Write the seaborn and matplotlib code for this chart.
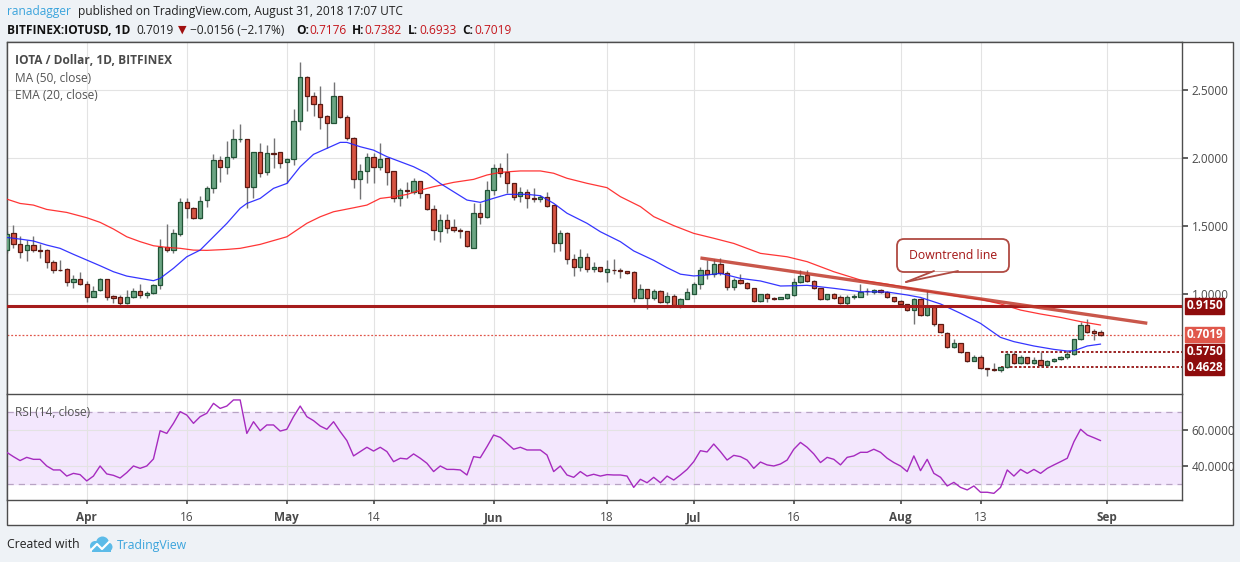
import numpy as np
import pandas as pd
import seaborn as sns
import matplotlib.pyplot as plt
import matplotlib.dates as mdates
from matplotlib.patches import Rectangle, FancyBboxPatch, Polygon, Circle
from matplotlib.lines import Line2D
from matplotlib.transforms import IdentityTransform

# IOT/USD daily candles on Bitfinex, 20 Mar - 31 Aug 2018
dates = pd.date_range("2018-03-20", "2018-08-31", freq="D")

open_ = [
    1.323, 1.446, 1.365, 1.321, 1.358, 1.322, 1.321, 1.233, 1.176, 1.181,
    1.086, 1.108, 1.071, 0.980, 1.027, 1.108, 0.985, 0.976, 0.931, 0.976,
    1.024, 0.990, 1.005, 1.064, 1.348, 1.323, 1.441, 1.674, 1.630, 1.556,
    1.693, 1.777, 1.985, 1.931, 2.005, 2.137, 2.137, 1.789, 2.041, 1.899,
    2.034, 2.041, 1.968, 1.990, 2.272, 2.593, 2.458, 2.394, 2.308, 2.260,
    2.453, 2.299, 2.144, 1.843, 1.902, 2.005, 1.931, 1.997, 1.902, 1.703,
    1.762, 1.752, 1.828, 1.733, 1.622, 1.461, 1.541, 1.490, 1.471, 1.460,
    1.341, 1.594, 1.569, 1.763, 1.924, 1.895, 1.814, 1.723, 1.753, 1.709,
    1.697, 1.711, 1.652, 1.373, 1.451, 1.255, 1.201, 1.270, 1.182, 1.196,
    1.165, 1.180, 1.174, 1.167, 1.160, 0.973, 1.035, 0.973, 1.022, 0.939,
    0.986, 0.920, 0.961, 1.003, 1.071, 1.174, 1.144, 1.220, 1.152, 1.054,
    1.103, 1.078, 1.041, 0.948, 0.997, 0.973, 0.965, 0.968, 0.990, 1.085,
    1.140, 1.095, 1.041, 0.960, 0.997, 0.980, 0.931, 0.980, 0.980, 1.025,
    1.012, 1.029, 1.012, 0.975, 0.948, 0.924, 0.882, 0.963, 0.845, 0.907,
    0.777, 0.716, 0.608, 0.637, 0.571, 0.510, 0.534, 0.453, 0.446, 0.439,
    0.461, 0.559, 0.490, 0.534, 0.490, 0.515, 0.476, 0.507, 0.522, 0.539,
    0.559, 0.667, 0.772, 0.728, 0.7176,
]
high = [
    1.460, 1.507, 1.426, 1.397, 1.426, 1.365, 1.330, 1.247, 1.247, 1.189,
    1.140, 1.159, 1.095, 1.059, 1.115, 1.110, 0.992, 0.992, 1.030, 1.046,
    1.071, 1.024, 1.071, 1.402, 1.515, 1.478, 1.703, 1.703, 1.640, 1.720,
    1.794, 2.027, 2.012, 2.125, 2.210, 2.250, 2.140, 2.045, 2.107, 2.095,
    2.144, 2.045, 1.997, 2.360, 2.708, 2.603, 2.483, 2.529, 2.316, 2.561,
    2.455, 2.316, 2.156, 1.956, 2.034, 2.039, 2.107, 1.997, 1.902, 1.782,
    1.826, 1.850, 1.830, 1.735, 1.654, 1.585, 1.585, 1.551, 1.482, 1.460,
    1.666, 1.667, 1.831, 1.956, 1.961, 2.040, 1.818, 1.790, 1.772, 1.777,
    1.728, 1.753, 1.655, 1.469, 1.455, 1.292, 1.329, 1.299, 1.233, 1.201,
    1.250, 1.255, 1.190, 1.172, 1.170, 1.071, 1.035, 1.037, 1.030, 1.017,
    0.998, 0.973, 1.042, 1.091, 1.199, 1.248, 1.255, 1.265, 1.169, 1.120,
    1.144, 1.088, 1.041, 1.000, 1.005, 0.980, 0.980, 1.000, 1.120, 1.176,
    1.176, 1.100, 1.046, 1.000, 1.005, 0.990, 0.990, 1.000, 1.071, 1.041,
    1.040, 1.035, 1.020, 0.980, 0.955, 0.930, 0.970, 0.970, 1.029, 0.910,
    0.780, 0.720, 0.667, 0.640, 0.575, 0.550, 0.552, 0.455, 0.490, 0.465,
    0.576, 0.575, 0.552, 0.540, 0.539, 0.576, 0.515, 0.530, 0.545, 0.581,
    0.670, 0.797, 0.814, 0.740, 0.7382,
]
low = [
    1.300, 1.341, 1.267, 1.245, 1.310, 1.267, 1.189, 1.152, 1.170, 1.061,
    1.046, 1.070, 0.944, 0.975, 1.024, 0.956, 0.931, 0.919, 0.928, 0.970,
    0.968, 0.968, 1.000, 1.034, 1.310, 1.299, 1.430, 1.556, 1.549, 1.549,
    1.642, 1.745, 1.826, 1.880, 1.990, 2.120, 1.634, 1.708, 1.858, 1.875,
    1.924, 1.929, 1.813, 1.948, 2.206, 2.345, 2.311, 2.210, 2.076, 2.255,
    2.291, 2.132, 1.782, 1.698, 1.813, 1.813, 1.912, 1.801, 1.674, 1.649,
    1.708, 1.732, 1.708, 1.617, 1.394, 1.384, 1.446, 1.458, 1.414, 1.348,
    1.336, 1.515, 1.562, 1.728, 1.863, 1.741, 1.692, 1.674, 1.630, 1.674,
    1.674, 1.643, 1.307, 1.319, 1.218, 1.133, 1.172, 1.160, 1.165, 1.160,
    1.086, 1.145, 1.116, 1.145, 0.939, 0.969, 0.888, 0.956, 0.934, 0.924,
    0.912, 0.895, 0.960, 1.000, 1.037, 1.110, 1.127, 1.140, 1.029, 1.030,
    1.071, 1.034, 0.940, 0.940, 0.943, 0.958, 0.960, 0.962, 0.982, 1.080,
    1.090, 1.037, 0.955, 0.955, 0.965, 0.927, 0.910, 0.965, 0.975, 0.995,
    1.000, 1.005, 0.970, 0.940, 0.920, 0.878, 0.779, 0.840, 0.840, 0.765,
    0.710, 0.600, 0.600, 0.565, 0.500, 0.505, 0.450, 0.397, 0.435, 0.430,
    0.458, 0.485, 0.485, 0.485, 0.488, 0.470, 0.470, 0.500, 0.517, 0.520,
    0.555, 0.660, 0.711, 0.662, 0.6933,
]
close = [
    1.441, 1.365, 1.311, 1.358, 1.321, 1.318, 1.233, 1.174, 1.174, 1.086,
    1.110, 1.071, 0.980, 1.024, 1.108, 0.980, 0.968, 0.931, 0.976, 1.024,
    0.990, 1.005, 1.064, 1.345, 1.323, 1.446, 1.674, 1.630, 1.556, 1.686,
    1.777, 1.985, 1.931, 2.005, 2.137, 2.140, 1.789, 2.041, 1.892, 2.034,
    2.030, 1.960, 1.990, 2.272, 2.593, 2.458, 2.394, 2.304, 2.260, 2.453,
    2.299, 2.144, 1.843, 1.902, 2.005, 1.931, 1.990, 1.894, 1.703, 1.762,
    1.757, 1.828, 1.740, 1.622, 1.468, 1.544, 1.487, 1.468, 1.460, 1.353,
    1.593, 1.569, 1.763, 1.924, 1.893, 1.814, 1.716, 1.753, 1.704, 1.697,
    1.711, 1.647, 1.373, 1.451, 1.255, 1.201, 1.270, 1.182, 1.196, 1.167,
    1.182, 1.174, 1.167, 1.157, 0.973, 1.035, 0.973, 1.022, 0.939, 0.986,
    0.920, 0.961, 1.015, 1.071, 1.174, 1.145, 1.220, 1.152, 1.054, 1.103,
    1.078, 1.041, 0.948, 0.997, 0.968, 0.965, 0.975, 0.997, 1.085, 1.135,
    1.095, 1.041, 0.960, 0.997, 0.973, 0.931, 0.975, 0.985, 1.012, 1.020,
    1.029, 1.012, 0.975, 0.948, 0.924, 0.882, 0.963, 0.845, 0.907, 0.777,
    0.718, 0.608, 0.637, 0.571, 0.510, 0.534, 0.453, 0.446, 0.439, 0.461,
    0.559, 0.490, 0.534, 0.490, 0.515, 0.476, 0.507, 0.522, 0.539, 0.559,
    0.667, 0.772, 0.723, 0.711, 0.7019,
]

# MA(50) and EMA(20), sampled off the chart at these candle indices
ma_idx = [0, 2, 4, 6, 9, 12, 14, 16, 18, 20, 22, 24, 26, 28, 30, 33, 35, 38, 42, 45,
          47, 49, 52, 54, 56, 58, 60, 62, 64, 67, 70, 72, 74, 77, 80, 82, 84, 87, 90, 92,
          95, 97, 100, 103, 106, 109, 113, 117, 120, 124, 128, 132, 137, 140, 143, 146,
          149, 152, 155, 158, 161, 164]
ma50 = [1.698, 1.666, 1.654, 1.622, 1.600, 1.561, 1.527, 1.478, 1.421, 1.385, 1.355,
        1.343, 1.336, 1.323, 1.321, 1.328, 1.336, 1.365, 1.421, 1.520, 1.568, 1.605,
        1.634, 1.654, 1.703, 1.715, 1.732, 1.764, 1.789, 1.821, 1.843, 1.875, 1.895,
        1.905, 1.905, 1.888, 1.851, 1.814, 1.782, 1.716, 1.643, 1.569, 1.503, 1.446,
        1.410, 1.372, 1.299, 1.274, 1.238, 1.164, 1.103, 1.073, 1.029, 1.005, 0.980,
        0.961, 0.927, 0.882, 0.853, 0.828, 0.797, 0.772]
ema_idx = [0, 2, 4, 6, 8, 10, 12, 14, 16, 18, 20, 22, 23, 25, 27, 29, 31, 33, 35, 36,
           38, 40, 42, 44, 46, 48, 50, 51, 53, 55, 57, 59, 61, 63, 65, 67, 69, 71, 73, 75,
           78, 80, 82, 84, 87, 89, 92, 94, 97, 99, 101, 103, 105, 107, 110, 113, 116, 118,
           120, 124, 128, 132, 135, 137, 140, 143, 146, 149, 151, 154, 157, 159, 160, 162,
           164]
ema20 = [1.416, 1.404, 1.390, 1.360, 1.336, 1.292, 1.250, 1.208, 1.164, 1.132, 1.115,
         1.098, 1.115, 1.189, 1.274, 1.323, 1.421, 1.519, 1.630, 1.666, 1.703, 1.777,
         1.813, 1.936, 2.027, 2.071, 2.115, 2.115, 2.083, 2.058, 2.010, 1.973, 1.936,
         1.887, 1.813, 1.752, 1.691, 1.674, 1.704, 1.733, 1.733, 1.723, 1.667, 1.594,
         1.520, 1.458, 1.385, 1.317, 1.248, 1.194, 1.146, 1.133, 1.140, 1.152, 1.115,
         1.096, 1.059, 1.061, 1.064, 1.042, 1.017, 1.015, 0.993, 0.975, 0.927, 0.858,
         0.784, 0.681, 0.650, 0.618, 0.593, 0.581, 0.583, 0.618, 0.632]

rsi = [
    47.6, 45.2, 43.0, 44.8, 43.7, 43.7, 40.0, 37.8, 37.8, 34.4,
    35.9, 35.2, 31.7, 34.4, 40.0, 35.6, 34.8, 33.3, 36.3, 40.0,
    38.7, 40.0, 43.9, 59.6, 58.1, 63.7, 70.2, 68.3, 63.7, 67.4,
    69.3, 74.8, 72.0, 73.3, 76.7, 76.7, 58.1, 64.6, 59.6, 62.8,
    62.8, 59.4, 60.4, 67.4, 73.3, 67.4, 65.2, 62.2, 60.4, 64.6,
    59.1, 54.1, 45.6, 48.0, 50.4, 48.3, 50.4, 48.0, 42.4, 44.3,
    43.9, 46.7, 44.3, 41.5, 36.9, 40.0, 38.1, 38.1, 37.8, 35.0,
    45.2, 44.6, 50.7, 57.2, 55.9, 52.6, 49.3, 50.4, 48.9, 48.9,
    48.9, 46.1, 36.9, 40.0, 35.0, 33.7, 36.9, 34.4, 35.4, 34.4,
    35.2, 35.0, 35.0, 34.4, 28.1, 32.6, 30.7, 33.7, 30.7, 34.4,
    32.2, 35.0, 38.1, 42.4, 48.5, 47.8, 52.2, 48.0, 43.3, 45.9,
    45.2, 43.3, 38.7, 42.2, 40.6, 40.0, 41.1, 43.3, 49.3, 53.1,
    50.4, 46.7, 41.9, 44.8, 43.7, 40.6, 44.8, 45.6, 47.6, 47.6,
    49.3, 47.6, 44.3, 41.9, 40.0, 36.9, 45.6, 37.4, 43.7, 35.9,
    33.7, 28.9, 30.9, 28.1, 26.7, 28.9, 25.4, 25.4, 24.8, 28.1,
    37.8, 34.4, 38.1, 35.9, 38.1, 35.9, 38.7, 40.6, 42.4, 44.3,
    53.5, 60.4, 57.2, 55.7, 54.1,
]

levels = [0.9150, 0.5750, 0.4628]
level_start = "2018-08-16"
trend_dates = ["2018-07-02", "2018-09-07"]
trend_prices = [1.265, 0.785]

tick_dates = ["2018-04-01", "2018-04-16", "2018-05-01", "2018-05-14", "2018-06-01",
              "2018-06-18", "2018-07-01", "2018-07-16", "2018-08-01", "2018-08-13",
              "2018-09-01"]
tick_labels = ["Apr", "16", "May", "14", "Jun", "18", "Jul", "16", "Aug", "13", "Sep"]
price_ticks = [1.0, 1.5, 2.0, 2.5]
rsi_ticks = [40, 60]

sns.set_theme(style="white")
plt.rcParams["font.family"] = ["Open Sans", "DejaVu Sans"]

W, H = 1240, 562
fig = plt.figure(figsize=(W / 100, H / 100), dpi=100, facecolor="#eef2f6")


def fbox(x0, y0, x1, y1):
    # pixel box (top-left origin) -> figure fraction
    return [x0 / W, 1 - y1 / H, (x1 - x0) / W, (y1 - y0) / H]


def ftxt(x, y, s, **kw):
    fig.text(x / W, 1 - y / H, s, va="center", ha="left", **kw)


# white chart frame
fig.add_artist(Rectangle((6.7, H - 525), 1232.6 - 6.7, 525 - 42, transform=IdentityTransform(),
                         fc="white", ec="#4d4d4d", lw=1.0, zorder=-5))

ax = fig.add_axes(fbox(6.7, 42, 1182, 394))
axr = fig.add_axes(fbox(6.7, 394, 1182, 500), sharex=ax)

xs = mdates.date2num(dates)
o, h, l, c = map(np.array, (open_, high, low, close))
up = c >= o
body_lo = np.minimum(o, c)
body_h = np.maximum(np.abs(c - o), 0.005)

ax.vlines(xs, l, h, color="#737375", lw=1.0, zorder=2)
ax.bar(xs[up], body_h[up], bottom=body_lo[up], width=0.64, color="#6ba583",
       edgecolor="#225437", lw=0.9, zorder=3)
ax.bar(xs[~up], body_h[~up], bottom=body_lo[~up], width=0.64, color="#d75442",
       edgecolor="#5b1a13", lw=0.9, zorder=3)

sns.lineplot(x=xs[ma_idx], y=ma50, ax=ax, color="#ff2020", lw=0.9, alpha=0.9, zorder=4)
sns.lineplot(x=xs[ema_idx], y=ema20, ax=ax, color="#2020ff", lw=0.9, alpha=0.9, zorder=4)

xmax = xs[0] + 176.2
ax.set_xlim(xs[0], xmax)
ax.set_ylim(0.265, 2.853)

ax.axhline(levels[0], color="#a51c1c", lw=2.2, zorder=5)
ax.axhline(close[-1], color="#e0574b", lw=0.9, ls=(0, (1.5, 1.5)), zorder=1)
lx = mdates.date2num(pd.Timestamp(level_start))
ax.hlines(levels[1:], lx, xmax, color="#8b0000", lw=1.2, ls=(0, (1.5, 1.2)), zorder=1)
ax.plot(mdates.date2num(pd.to_datetime(trend_dates)), trend_prices, color="#c0392b",
        lw=2.4, alpha=0.85, solid_capstyle="butt", zorder=6)

txs = mdates.date2num(pd.to_datetime(tick_dates))
for a in (ax, axr):
    a.set_facecolor("white")
    a.set_xticks(txs)
    a.grid(True, color="#e3e3e3", lw=0.8)
    a.set_axisbelow(True)
    a.yaxis.tick_right()
    a.set_xlabel("")
    a.set_ylabel("")
    for s in a.spines.values():
        s.set_color("#4d4d4d")
        s.set_linewidth(1.0)
        s.set_visible(True)

ax.spines["bottom"].set_visible(False)
ax.tick_params(axis="x", length=0, labelbottom=False)
ax.set_yticks(price_ticks)
ax.set_yticklabels([f"{v:.4f}" for v in price_ticks])
ax.tick_params(axis="y", right=True, length=4, color="#4d4d4d", labelcolor="#4a4a4a",
               labelsize=8.5, pad=3)

# price tags on the right scale
tags = [(levels[0], "#8e0c0c"), (close[-1], "#e0574b"), (levels[1], "#8e0c0c"), (levels[2], "#8e0c0c")]
for val, fc in tags:
    ax.annotate(f"{val:.4f}", xy=(1.0, val), xycoords=("axes fraction", "data"),
                xytext=(3, 0), textcoords="offset points", ha="left", va="center",
                color="white", fontsize=8.5, fontweight="bold", annotation_clip=False,
                bbox=dict(boxstyle="square,pad=0.12", fc=fc, ec=fc), zorder=10)

# RSI pane
axr.axhspan(30, 70, color="#f3e7fd", zorder=0)
for lv in (30, 70):
    axr.axhline(lv, color="#b8a3c4", lw=0.9, ls=(0, (5, 4)), zorder=1)
sns.lineplot(x=xs, y=rsi, ax=axr, color="#a62bbf", lw=1.0, zorder=3)
axr.set_xlim(xs[0], xmax)
axr.set_ylim(21.1, 80)
axr.set_yticks(rsi_ticks)
axr.set_yticklabels([f"{v:.4f}" for v in rsi_ticks])
axr.tick_params(axis="y", right=True, length=4, color="#4d4d4d", labelcolor="#4a4a4a",
                labelsize=8.5, pad=3)
axr.set_xticklabels(tick_labels)
axr.tick_params(axis="x", bottom=True, length=3, color="#4d4d4d", labelcolor="#4a4a4a",
                labelsize=8.5, pad=5)
for t in axr.get_xticklabels():
    if not t.get_text().isdigit():
        t.set_fontweight("bold")

# header
ftxt(6.7, 12, "ranadagger", color="#3ba4dc", fontsize=8.6)
ftxt(78, 12, "published on TradingView.com, August 31, 2018 17:07 UTC", color="#222222", fontsize=8.6)
ftxt(6.7, 30, "BITFINEX:IOTUSD, 1D", color="#111111", fontsize=8.6, fontweight="bold")
ftxt(136, 30, "0.7019", color="#222222", fontsize=8.6)
ftxt(178, 30, "\u25BC", color="#a01010", fontsize=8.0, family=["DejaVu Sans"])
ftxt(190, 30, "\u22120.0156 (\u22122.17%)", color="#222222", fontsize=8.6)
for x, lab, xv, val in [(296, "O:", 309.5, "0.7176"), (352, "H:", 364.5, "0.7382"),
                        (408, "L:", 419, "0.6933"), (462.5, "C:", 474.5, "0.7019")]:
    ftxt(x, 30, lab, color="#111111", fontsize=8.6, fontweight="bold")
    ftxt(xv, 30, val, color="#c4161c", fontsize=8.6)

# pane legends
ftxt(15, 61, "IOTA / Dollar, 1D, BITFINEX", color="#4a4a4a", fontsize=8.6, fontweight="bold")
ftxt(15, 78, "MA (50, close)", color="#555555", fontsize=8.6)
ftxt(15, 95, "EMA (20, close)", color="#555555", fontsize=8.6)
ftxt(15, 412, "RSI (14, close)", color="#555555", fontsize=8.6)

# "Downtrend line" callout
idt = IdentityTransform()
fig.add_artist(FancyBboxPatch((897, H - 272), 112, 33, boxstyle="round,pad=0,rounding_size=7",
                              transform=idt, fc="white", ec="#b04a42", lw=1.3, zorder=20))
fig.add_artist(Polygon([(906, H - 282), (934, H - 271.5), (958, H - 271.5)], closed=True,
                       transform=idt, fc="white", ec="none", zorder=21))
for x2 in (934, 958):
    fig.add_artist(Line2D([906, x2], [H - 282, H - 271], transform=idt, color="#b04a42",
                          lw=1.3, zorder=22))
fig.text(953 / W, 1 - 255.5 / H, "Downtrend line", ha="center", va="center",
         color="#a31515", fontsize=8.8, zorder=23)

# footer
ftxt(6.7, 545, "Created with", color="#222222", fontsize=8.8)
for cx, cy, r, col in [(95, 546, 5, "#5cbbe8"), (102.5, 543, 6.5, "#5cbbe8"), (108, 547, 4.5, "#5cbbe8")]:
    fig.add_artist(Circle((cx, H - cy), r, transform=idt, fc=col, ec="none", zorder=5))
fig.add_artist(Rectangle((92, H - 551.5), 19, 5, transform=idt, fc="#5cbbe8", ec="none", zorder=5))
fig.add_artist(Line2D([91, 97, 102, 109], [H - 550, H - 544, H - 549, H - 542], transform=idt,
                      color="white", lw=1.6, zorder=6))
ftxt(117, 545, "TradingView", color="#3ba4dc", fontsize=8.8)

fig.savefig("out.png", dpi=100, facecolor=fig.get_facecolor())
